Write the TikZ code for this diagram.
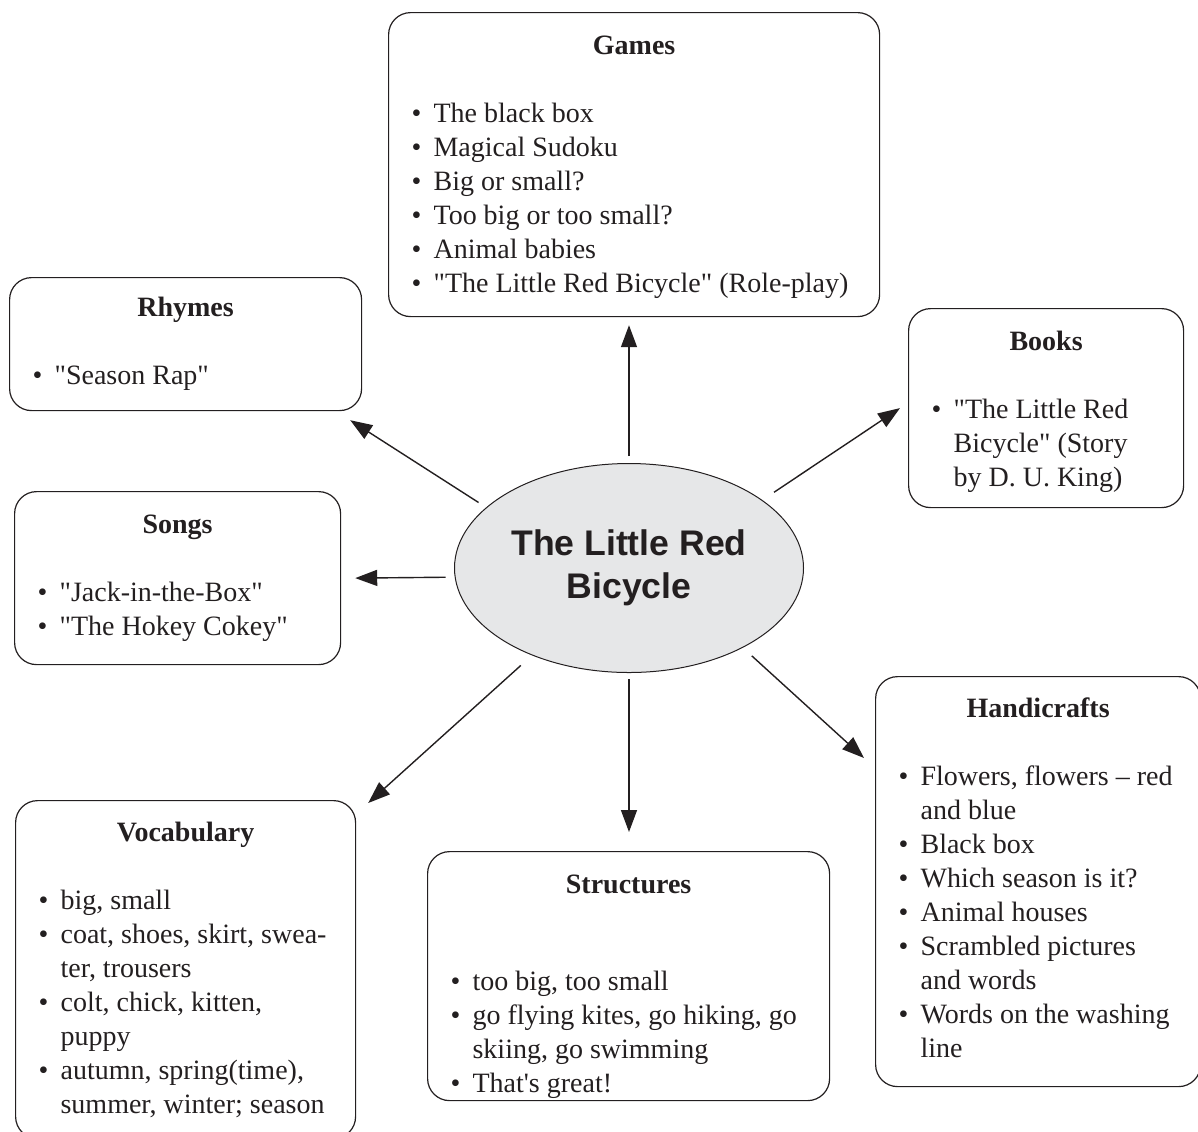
\documentclass[tikz,border=0pt]{standalone}
\usepackage{fontspec}
\setmainfont{Liberation Serif}[Ligatures=TeXOff]
\newfontfamily\hubfont{Liberation Sans}
\usetikzlibrary{shapes.geometric, arrows.meta}

\definecolor{ink}{HTML}{231F20}
\definecolor{hubgray}{HTML}{E6E7E8}

% box heading and bullet items
\newcommand{\boxhead}[1]{\centerline{\bfseries #1}\par}
\newcommand{\itm}[1]{\par\hangindent=11pt\hangafter=1\noindent\makebox[11pt][l]{\textbullet}#1}

\begin{document}
\begin{tikzpicture}[
    x=0.5pt, y=-0.5pt,
    every node/.style={font=\fontsize{14}{17}\selectfont, text=ink},
    box/.style={draw=ink, line width=0.6pt, rounded corners=11pt, anchor=north west, align=flush left, inner xsep=11.5pt, inner ysep=0pt},
    hub/.style={ellipse, draw=ink, line width=0.5pt, fill=hubgray, minimum width=174.5pt, minimum height=104.5pt, inner sep=0pt, align=center, font=\hubfont\bfseries\fontsize{17.8}{21.5}\selectfont},
    arr/.style={draw=ink, line width=0.7pt, -{Triangle[length=11pt, width=8pt]}}
]
\useasboundingbox (0,0) rectangle (1198,1131);

% Nodes
\node[hub] (bike) at (629,568) {The Little Red\\Bicycle};

\node[box, text width=222.5pt, minimum height=152pt] (games) at (388,12) {\boxhead{\rule{0pt}{11.5pt}Games}\vspace{17pt}
  \itm{The black box}
  \itm{Magical Sudoku}
  \itm{Big or small?}
  \itm{Too big or too small?}
  \itm{Animal babies}
  \itm{"The Little Red Bicycle" (Role-play)}\par};

\node[box, text width=153pt, minimum height=66.5pt] (rhymes) at (9,277) {\boxhead{Rhymes}\vspace{17pt}
  \itm{"Season Rap"}\par};

\node[box, text width=114.5pt, minimum height=99.5pt] (books) at (908,308) {\boxhead{\rule{0pt}{13pt}Books}\vspace{17pt}
  \itm{"The Little Red\newline Bicycle" (Story\newline by D. U. King)}\par};

\node[box, text width=140pt, minimum height=86.5pt] (songs) at (14,491) {\boxhead{Songs}\vspace{17pt}
  \itm{"Jack-in-the-Box"}
  \itm{"The Hokey Cokey"}\par};

\node[box, text width=147pt, minimum height=169pt] (vocab) at (15,800) {\boxhead{Vocabulary}\vspace{17pt}
  \itm{big, small}
  \itm{coat, shoes, skirt, swea-\newline ter, trousers}
  \itm{colt, chick, kitten,\newline puppy}
  \itm{autumn, spring(time),\newline summer, winter; season}\par};

\node[box, text width=178pt, minimum height=124.5pt] (structs) at (427,851) {\boxhead{\rule{0pt}{19.5pt}Structures}\vspace{31.5pt}
  \itm{too big, too small}
  \itm{go flying kites, go hiking, go\newline skiing, go swimming}
  \itm{That's great!}\par};

\node[box, text width=139.5pt, minimum height=205pt] (handi) at (875,676) {\boxhead{Handicrafts}\vspace{17pt}
  \itm{Flowers, flowers – red\newline and blue}
  \itm{Black box}
  \itm{Which season is it?}
  \itm{Animal houses}
  \itm{Scrambled pictures\newline and words}
  \itm{Words on the washing\newline line}\par\vspace{3.5pt}};

% Arrows
\draw[arr, shorten <=3.5pt, shorten >=4pt] (bike.north) -- (bike.north |- games.south);
\draw[arr, shorten <=4.5pt] (bike.157) -- ([xshift=-6pt, yshift=-4.5pt]rhymes.south east);
\draw[arr, shorten <=7pt] (bike.27) -- ([xshift=-4pt]books.west);
\draw[arr, shorten <=4.5pt] (bike.183) -- ([xshift=7pt]songs.east);
\draw[arr, shorten <=7.5pt] (bike.222) -- ([xshift=6pt, yshift=-1.5pt]vocab.north east);
\draw[arr, shorten <=3pt, shorten >=9.5pt] (bike.south) -- (bike.south |- structs.north);
\draw[arr, shorten <=6pt] (bike.325) -- ([xshift=-5.5pt, yshift=-41pt]handi.north west);
\end{tikzpicture}
\end{document}
